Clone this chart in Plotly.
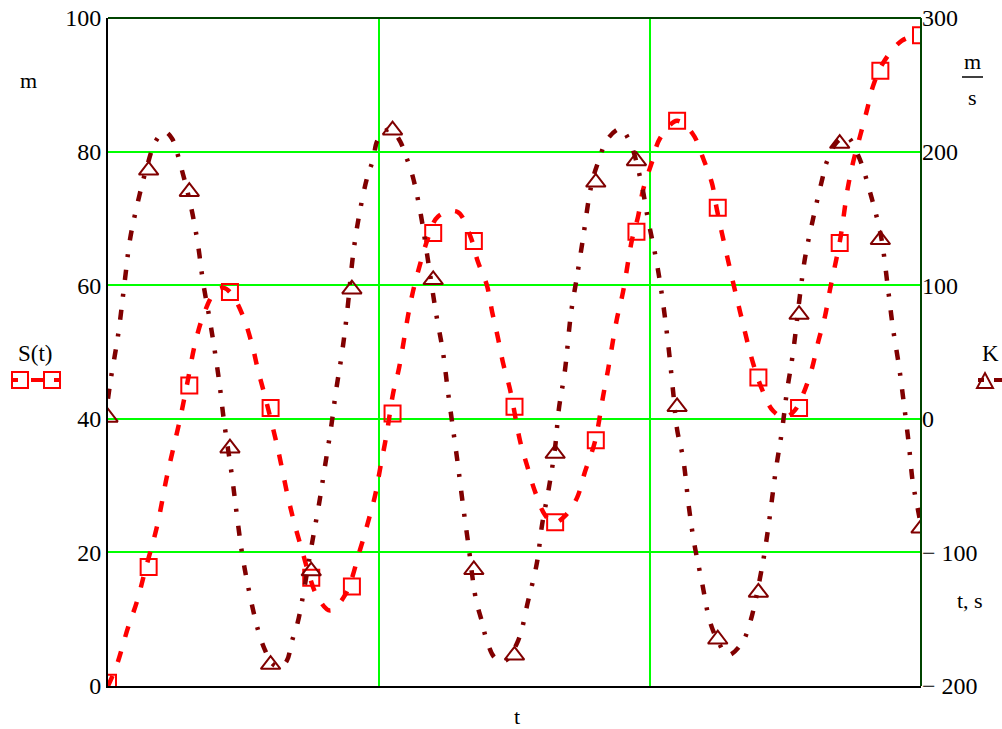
import plotly.graph_objects as go

# ---------------- data ----------------
t_marks = list(range(0, 21))
S_marks = [0.5, 17.8, 45.0, 59.0, 41.6, 16.2, 14.9, 40.8, 67.8, 66.6, 41.8,
           24.5, 36.8, 68.0, 84.6, 71.6, 46.2, 41.6, 66.3, 92.1, 97.4]
K_marks = [1, 186, 170, -22, -184, -114, 97, 216, 104, -113, -177,
           -26, 177, 193, 9, -165, -130, 78, 206, 134, -82]

S_curve_t = [0.00, 0.22, 0.49, 0.71, 0.91, 1.21, 1.45, 1.77, 1.94, 2.14, 2.34, 2.63, 2.85,
             3.05, 3.32, 3.54, 3.69, 3.86, 4.16, 4.43, 4.60, 4.77, 4.92, 5.14, 5.46, 5.83,
             6.20, 6.40, 6.57, 6.69, 6.86, 7.01, 7.16, 7.38, 7.50, 7.68, 7.87, 8.12, 8.59,
             8.91, 9.10, 9.32, 9.45, 9.59, 9.72, 9.89, 10.14, 10.31, 10.50, 10.75, 10.97,
             11.25, 11.54, 11.73, 11.98, 12.18, 12.30, 12.52, 12.67, 12.89, 13.04, 13.16,
             13.38, 13.58, 14.00, 14.39, 14.64, 14.86, 14.98, 15.25, 15.55, 15.87, 16.09,
             16.36, 16.65, 16.90, 17.10, 17.32, 17.47, 17.64, 17.76, 18.01, 18.20, 18.33,
             18.50, 18.67, 18.82, 19.07, 19.53, 20.00]
S_curve_v = [0.0, 3.2, 8.7, 12.6, 17.2, 24.0, 31.4, 39.9, 45.0, 51.2, 55.4, 59.0, 59.6,
             58.6, 55.4, 51.2, 47.3, 43.4, 36.0, 28.2, 24.0, 20.4, 17.2, 13.5, 11.3, 13.6,
             20.4, 24.6, 28.5, 32.4, 37.9, 43.7, 47.6, 55.4, 59.0, 63.2, 67.0, 70.3, 71.0,
             67.4, 63.5, 60.0, 56.0, 52.2, 48.3, 44.4, 36.6, 33.0, 29.2, 25.6, 24.4,
             25.5, 28.2, 32.0, 36.6, 43.4, 47.3, 55.0, 59.0, 66.8, 70.3, 74.2,
             78.4, 82.0, 84.6, 82.6, 79.0, 75.2, 71.3, 63.8, 56.0, 48.3, 44.4,
             41.2, 40.2, 41.3, 43.7, 47.6, 51.5, 55.4, 59.3, 66.8, 74.6, 78.4,
             82.3, 86.2, 89.8, 93.3, 96.6, 97.6]

K_curve_t = [0.00, 0.07, 0.25, 0.42, 0.54, 0.74, 0.96, 1.16, 1.38, 1.57, 1.80, 2.04, 2.21,
             2.34, 2.51, 2.66, 2.76, 2.85, 3.05, 3.17, 3.30, 3.47, 3.69, 3.86, 4.03, 4.23,
             4.40, 4.53, 4.67, 4.77, 5.02, 5.19, 5.34, 5.49, 5.61, 5.76, 5.88, 6.03, 6.17,
             6.37, 6.52, 6.64, 6.94, 7.18, 7.36, 7.50, 7.70, 7.85, 8.07, 8.24, 8.36, 8.49,
             8.61, 8.73, 8.86, 9.05, 9.20, 9.30, 9.52, 9.77, 10.09, 10.33, 10.55, 10.68,
             10.85, 11.00, 11.09, 11.24, 11.39, 11.54, 11.69, 11.83, 11.93, 12.08, 12.28,
             12.60, 12.84, 13.11, 13.28, 13.48, 13.63, 13.78, 13.90, 14.00, 14.15, 14.29,
             14.42, 14.61, 14.81, 15.03, 15.25, 15.59, 15.79, 16.09, 16.24, 16.43, 16.58,
             16.70, 16.85, 17.02, 17.15, 17.34, 17.56, 17.68, 17.93, 18.18, 18.47, 18.77,
             19.02, 19.19, 19.31, 19.46, 19.56, 19.70, 19.80, 19.90, 20.00]
K_curve_v = [15, 30, 63, 105, 134, 163, 189, 207, 215, 210, 188, 159, 131,
             102, 73, 44, 22, -1, -43, -72, -101, -129, -158, -173, -183, -186,
             -181, -166, -152, -137, -93, -64, -35, -6, 21, 50, 79, 123, 151,
             180, 194, 209, 217, 208, 194, 181, 152, 123, 79, 50, 21, -8,
             -35, -64, -93, -135, -152, -164, -179, -181, -166, -137, -108, -79,
             -51, -21, 7, 36, 79, 107, 136, 165, 180, 194, 209,
             217, 207, 178, 150, 120, 92, 56, 21, -8, -30, -66,
             -93, -122, -152, -168, -177, -168, -153, -111, -82, -38, -9,
             20, 49, 92, 121, 149, 178, 192, 207, 211, 196, 167,
             136, 97, 68, 39, 16, -19, -48, -64, -80]

left_ticks = [0, 20, 40, 60, 80, 100]
right_ticks = [-200, -100, 0, 100, 200, 300]
right_ticktext = ["\u2212 200", "\u2212 100", "0", "100", "200", "300"]
x_grid = [20 / 3, 40 / 3]

# ---------------- layout geometry ----------------
W, H = 1002, 729
L, R, T, B = 108, 921, 18, 686   # plot area in pixels


def P(px, py):
    return (px - L) / (R - L), (B - py) / (B - T)


S_COL = "#FF0000"
K_COL = "#800000"
GRID = "#00FF00"
FONT = "Liberation Serif"

fig = go.Figure()

fig.add_trace(go.Scatter(x=S_curve_t, y=S_curve_v, mode="lines",
                         line=dict(color=S_COL, width=4.5, dash="11px,15px", shape="spline"),
                         showlegend=False, hoverinfo="skip"))
fig.add_trace(go.Scatter(x=t_marks, y=S_marks, mode="markers",
                         marker=dict(symbol="square-open", size=16, color=S_COL,
                                     line=dict(width=2, color=S_COL)),
                         showlegend=False))
fig.add_trace(go.Scatter(x=K_curve_t, y=K_curve_v, mode="lines", yaxis="y2",
                         line=dict(color=K_COL, width=4.5, dash="10px,13px,3px,14px", shape="spline"),
                         showlegend=False, hoverinfo="skip"))
fig.add_trace(go.Scatter(x=t_marks, y=K_marks, mode="markers", yaxis="y2",
                         marker=dict(symbol="triangle-up-open", size=17, color=K_COL,
                                     line=dict(width=2, color=K_COL)),
                         showlegend=False))

shapes = []
# top and right frame
shapes.append(dict(type="line", xref="paper", yref="paper", x0=0, x1=1, y0=1, y1=1,
                   line=dict(color="#004400", width=2)))
shapes.append(dict(type="line", xref="paper", yref="paper", x0=1, x1=1, y0=0, y1=1,
                   line=dict(color="#004400", width=2)))
# m/s fraction bar
a = P(962, 77); b = P(983, 77)
shapes.append(dict(type="line", xref="paper", yref="paper", x0=a[0], x1=b[0], y0=a[1], y1=b[1],
                   line=dict(color="black", width=1.5)))
# legend glyph S(t): square - dash - square
for cx in (20, 52):
    p0 = P(cx - 8, 372); p1 = P(cx + 8, 388)
    shapes.append(dict(type="rect", xref="paper", yref="paper", x0=p0[0], x1=p1[0],
                       y0=p0[1], y1=p1[1], line=dict(color=S_COL, width=2)))
p0 = P(31, 380); p1 = P(43, 380)
shapes.append(dict(type="line", xref="paper", yref="paper", x0=p0[0], x1=p1[0], y0=p0[1], y1=p1[1],
                   line=dict(color=S_COL, width=4)))
for cx in (15, 57):
    p0 = P(cx - 3, 380); p1 = P(cx + 3, 380)
    shapes.append(dict(type="line", xref="paper", yref="paper", x0=p0[0], x1=p1[0], y0=p0[1], y1=p1[1],
                       line=dict(color=S_COL, width=4)))
# legend glyph K: triangle - dash
t1 = P(977, 388); t2 = P(993, 388); t3 = P(985, 373)
shapes.append(dict(type="path", xref="paper", yref="paper",
                   path=f"M {t1[0]},{t1[1]} L {t2[0]},{t2[1]} L {t3[0]},{t3[1]} Z",
                   line=dict(color=K_COL, width=2)))
p0 = P(994, 380); p1 = P(1002, 380)
shapes.append(dict(type="line", xref="paper", yref="paper", x0=p0[0], x1=p1[0], y0=p0[1], y1=p1[1],
                   line=dict(color=K_COL, width=4)))
p0 = P(978, 380); p1 = P(984, 380)
shapes.append(dict(type="line", xref="paper", yref="paper", x0=p0[0], x1=p1[0], y0=p0[1], y1=p1[1],
                   line=dict(color=K_COL, width=4)))

annotations = []


def txt(s, px, py, size=22, xanchor="center"):
    x, y = P(px, py)
    annotations.append(dict(text=s, x=x, y=y, xref="paper", yref="paper", showarrow=False,
                            xanchor=xanchor, yanchor="middle",
                            font=dict(family=FONT, size=size, color="black")))


txt("m", 28, 80)
txt("S(t)", 35, 353, size=23)
txt("m", 972, 62)
txt("s", 972, 98)
txt("K", 990, 353, size=23)
txt("t, s", 970, 600)
txt("t", 517, 716)

fig.update_layout(
    width=W, height=H,
    margin=dict(l=L, r=(W - R), t=T, b=(H - B), pad=0, autoexpand=False),
    paper_bgcolor="white", plot_bgcolor="white",
    font=dict(family=FONT, size=24, color="black"),
    xaxis=dict(range=[0, 20], tickvals=x_grid, showticklabels=False, ticks="",
               showgrid=True, gridcolor=GRID, gridwidth=2, zeroline=False, automargin=False,
               showline=True, linecolor="black", linewidth=2),
    yaxis=dict(range=[0, 100], tickvals=left_ticks, ticks="", showgrid=True,
               gridcolor=GRID, gridwidth=2, zeroline=False, automargin=False,
               showline=True, linecolor="black", linewidth=2, ticklabeloverflow="allow",
               tickfont=dict(family=FONT, size=24)),
    yaxis2=dict(range=[-200, 300], overlaying="y", side="right", tickvals=right_ticks,
                ticktext=right_ticktext, ticks="", showgrid=False, zeroline=False,
                automargin=False, showline=False, ticklabeloverflow="allow",
                tickfont=dict(family=FONT, size=24)),
    shapes=shapes,
    annotations=annotations,
    showlegend=False,
)

fig.write_html("out.html",
               config={"displayModeBar": False},
               post_script="document.body.style.margin='0px';document.body.style.overflow='hidden';")
